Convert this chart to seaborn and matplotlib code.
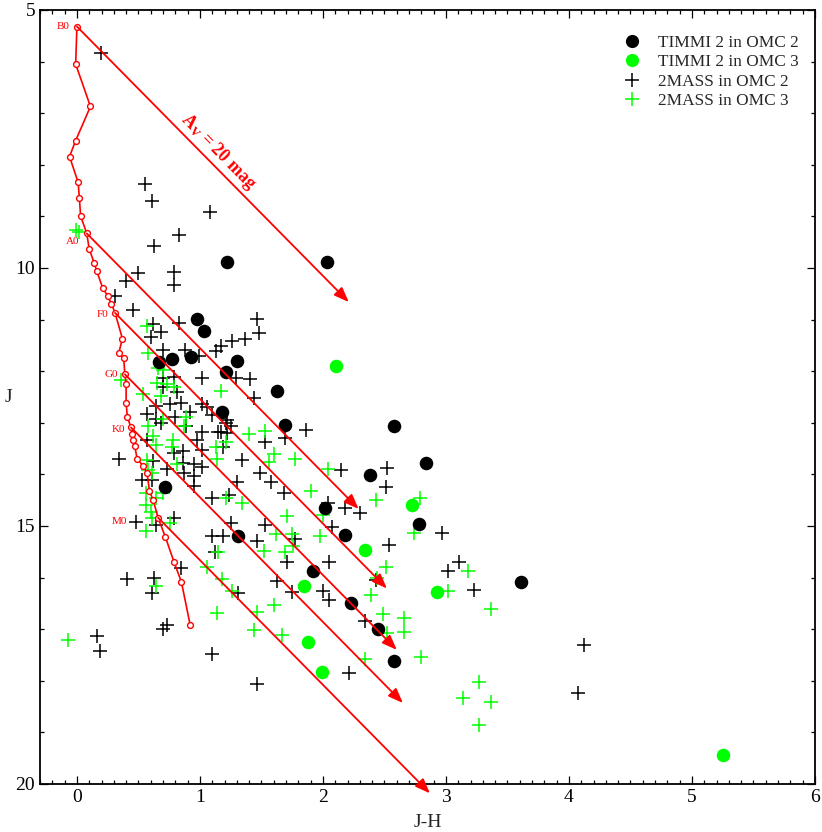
import numpy as np
import pandas as pd
import matplotlib
matplotlib.use('Agg')
import matplotlib.pyplot as plt
import seaborn as sns
from matplotlib.lines import Line2D
from matplotlib.ticker import MultipleLocator

# ---------------- data ----------------
# TIMMI 2 sources in OMC 2 (black dots)
timmi2_jh = [1.22, 2.03, 0.98, 1.03, 0.67, 0.77, 0.93, 1.30, 1.21, 1.63, 1.18, 1.69,
             2.58, 2.84, 2.38, 0.72, 2.02, 2.78, 1.31, 2.18, 1.92, 3.61, 2.23, 2.45, 2.58]
timmi2_j = [9.88, 9.89, 10.98, 11.22, 11.82, 11.77, 11.73, 11.81, 12.01, 12.38, 12.80, 13.04,
            13.07, 13.77, 14.01, 14.25, 14.66, 14.97, 15.19, 15.18, 15.88, 16.09, 16.49, 17.00, 17.62]

# TIMMI 2 sources in OMC 3 (green dots)
timmi3_jh = [2.11, 2.72, 2.34, 1.85, 2.93, 1.88, 1.99, 5.25]
timmi3_j = [11.89, 14.60, 15.46, 16.16, 16.28, 17.25, 17.82, 19.44]

# 2MASS sources in OMC 2 (black crosses)
mass2_jh = [0.195, 0.55, 0.61, 1.08, 0.83, 0.63, 0.50, 0.79,
            0.79, 0.40, 0.31, 0.455, 1.46, 1.48, 0.83, 0.62, 0.68, 0.60, 1.37, 1.26, 1.17, 1.13,
            0.70, 0.88, 0.99,
            0.70, 0.79, 1.02, 1.29, 1.41, 1.44, 0.70, 0.81, 0.76, 0.85, 1.02, 1.06, 1.10, 1.22,
            0.64, 0.57, 0.64, 0.80, 0.89, 0.92, 1.02, 1.17, 1.22, 1.25, 0.98, 0.57, 0.86, 0.79,
            1.02, 1.53, 1.69, 1.86, 1.34, 0.34, 0.62, 0.73, 0.86, 0.95, 1.02, 0.87, 0.95, 0.53,
            0.61, 0.95, 1.30, 1.49, 1.58, 1.68, 1.10, 1.24, 1.53, 1.25, 0.48, 0.64, 0.79, 1.10,
            1.19, 1.21, 1.15, 1.19, 0.68,
            1.46, 1.77, 1.12, 1.71, 2.05, 0.85, 0.41, 0.63, 0.61, 1.63, 1.31, 1.75, 2.00, 2.05,
            0.70, 0.73, 0.16, 0.19, 1.10, 1.46,
            2.07, 2.97, 2.54, 3.11, 3.02, 3.23, 2.43, 2.34, 2.21, 4.07, 4.12,
            2.15, 2.52, 2.51, 2.04, 2.18, 2.30]
mass2_j = [5.84, 8.38, 8.71, 8.91, 9.37, 9.57, 10.09, 10.07,
           10.32, 10.25, 10.54, 10.81, 10.98, 11.25, 11.07, 11.09, 11.24, 11.33, 11.38, 11.41, 11.52, 11.61,
           11.58, 11.59, 11.70,
           12.14, 12.11, 12.13, 12.14, 12.15, 12.51, 12.31, 12.40, 12.64, 12.61, 12.64, 12.69, 12.84, 12.95,
           12.68, 12.83, 12.93, 12.88, 13.06, 12.79, 13.18, 13.17, 13.20, 13.07, 13.33, 13.33, 13.54, 13.59,
           13.53, 13.37, 13.30, 13.13, 13.72, 13.70, 13.74, 13.90, 13.77, 13.79, 13.86, 13.98, 14.03, 14.11,
           14.11, 14.22, 14.14, 13.98, 14.14, 14.37, 14.45, 14.40, 14.98, 14.95, 14.92, 14.98, 14.85, 15.19,
           15.19, 13.00, 13.18, 13.46, 13.01,
           15.30, 15.25, 15.50, 15.69, 15.69, 15.82, 16.03, 16.01, 16.30, 16.07, 16.30, 16.27, 16.26, 16.43,
           17.00, 16.92, 17.14, 17.42, 17.49, 18.06,
           15.01, 15.13, 15.37, 15.69, 15.87, 16.24, 16.05, 16.85, 17.85, 18.24, 17.31,
           13.91, 13.88, 14.24, 14.55, 14.66, 14.75]

# 2MASS sources in OMC 3 (green crosses)
mass3_jh = [-0.005, 0.02,
            0.57, 0.58, 0.66, 0.70, 0.65, 0.73, 0.79, 0.68, 0.54, 1.17, 0.36,
            0.89, 0.70, 0.58, 0.87, 0.62, 0.64, 0.78, 0.77, 1.40, 1.53, 1.21, 1.13, 1.60, 1.56, 1.77,
            1.14, 0.81, 0.57, 0.58, 0.61, 1.90, 1.21, 1.34, 0.56, 0.56, 0.64, 0.70, 0.60, 0.61, 1.71,
            0.76, 0.56, 1.62, 1.75, 1.98, 2.04, 2.00, 2.43, 2.79, 2.74,
            1.15, 1.06, 1.18, 1.26, 0.64, 1.14, 1.46, 1.60, 1.44, 1.67, 1.52, 1.69, 1.76,
            2.51, 2.44, 3.18, 3.02, 2.39, 3.37, 2.49, 2.66, 2.52, 2.66, 2.34, 2.80, 3.27, 3.14, 3.37,
            3.27, -0.07]
mass3_j = [9.26, 9.30,
           11.13, 11.64, 11.94, 11.98, 12.23, 12.25, 12.30, 12.48, 12.45, 12.38, 12.17,
           12.88, 12.93, 13.06, 13.06, 13.26, 13.43, 13.33, 13.46, 13.22, 13.15, 13.37, 13.46, 13.61, 13.75, 13.71,
           13.71, 13.80, 13.72, 13.91, 13.98, 14.32, 14.46, 14.56, 14.37, 14.59, 14.46, 14.37, 14.72, 14.85, 14.81,
           14.95, 15.09, 15.16, 15.16, 15.20, 13.90, 14.79, 14.50, 14.46, 15.13,
           15.50, 15.79, 16.03, 16.25, 16.17, 16.68, 16.66, 16.53, 17.02, 17.11, 15.48, 15.51, 15.39,
           15.80, 16.01, 15.87, 16.25, 16.34, 16.60, 16.71, 16.78, 17.08, 17.06, 17.58, 17.54, 18.03, 18.34, 18.42,
           18.86, 17.21]

# Main sequence (J-H, J)
seq_jh = [0.00, -0.01, 0.11, -0.01, -0.06, 0.01, 0.02, 0.03, 0.08, 0.10, 0.14, 0.16, 0.21,
          0.25, 0.28, 0.31, 0.37, 0.34, 0.38, 0.39, 0.40, 0.40, 0.41, 0.44, 0.45, 0.455,
          0.47, 0.49, 0.54, 0.57, 0.59, 0.62, 0.66, 0.72, 0.79, 0.85, 0.92]
seq_j = [5.32, 6.05, 6.87, 7.53, 7.84, 8.34, 8.64, 8.99, 9.33, 9.63, 9.90, 10.05, 10.39,
         10.54, 10.69, 10.87, 11.37, 11.65, 11.75, 12.06, 12.25, 12.61, 12.89, 13.09, 13.22, 13.33,
         13.45, 13.70, 13.84, 13.98, 14.32, 14.50, 14.84, 15.22, 15.70, 16.09, 16.91]
spec_types = ['B0', 'A0', 'F0', 'G0', 'K0', 'M0']
spec_index = [0, 8, 15, 19, 23, 32]

# Reddening vector for A_V = 20 mag
av_djh = 2.21
av_dj = 5.34

legend_labels = ['TIMMI 2 in OMC 2', 'TIMMI 2 in OMC 3', '2MASS in OMC 2', '2MASS in OMC 3']

# ---------------- style ----------------
GREEN = '#00ff00'
sns.set_style('ticks')
plt.rcParams['font.family'] = ['Liberation Serif', 'DejaVu Serif']
plt.rcParams['mathtext.fontset'] = 'custom'
plt.rcParams['mathtext.rm'] = 'Liberation Serif'
plt.rcParams['mathtext.it'] = 'Liberation Serif:italic'
plt.rcParams['mathtext.bf'] = 'Liberation Serif:bold'

fig = plt.figure(figsize=(8.22, 8.32), dpi=100)
ax = fig.add_axes([40 / 822, 1 - 784 / 832, 775 / 822, 774 / 832])

df2m = pd.DataFrame({'jh': mass2_jh, 'j': mass2_j})
df3m = pd.DataFrame({'jh': mass3_jh, 'j': mass3_j})
df2t = pd.DataFrame({'jh': timmi2_jh, 'j': timmi2_j})
df3t = pd.DataFrame({'jh': timmi3_jh, 'j': timmi3_j})

sns.scatterplot(data=df2m, x='jh', y='j', marker='+', s=110, linewidth=1.1,
                color='black', ax=ax, zorder=3)
sns.scatterplot(data=df3m, x='jh', y='j', marker='+', s=110, linewidth=1.1,
                color=GREEN, ax=ax, zorder=3)
sns.scatterplot(data=df2t, x='jh', y='j', marker='o', s=95, linewidth=0,
                color='black', ax=ax, zorder=4)
sns.scatterplot(data=df3t, x='jh', y='j', marker='o', s=95, linewidth=0,
                color=GREEN, ax=ax, zorder=4)

# main sequence
ax.plot(seq_jh, seq_j, color='red', lw=1.2, marker='o', ms=4.2, mfc='white',
        mec='red', mew=1.0, zorder=5)

ax.set_xlim(-0.3, 6.0)
ax.set_ylim(20, 5)

# reddening arrows
for idx in spec_index:
    x0, y0 = seq_jh[idx], seq_j[idx]
    ax.annotate('', xy=(x0 + av_djh, y0 + av_dj), xytext=(x0, y0),
                arrowprops=dict(arrowstyle='-|>,head_length=0.9,head_width=0.35',
                                color='red', lw=1.3, shrinkA=0, shrinkB=0),
                annotation_clip=False, zorder=6)

# spectral type labels
label_offsets = [(-5, 0), (-5, -6), (-5, -1), (-5, 0), (-4, -1.5), (-22, -3)]
for name, idx, off in zip(spec_types, spec_index, label_offsets):
    ax.annotate(name, xy=(seq_jh[idx], seq_j[idx]), xytext=off,
                textcoords='offset points', ha='right', va='center',
                color='red', fontsize=8)

# A_V label rotated along the first vector
p1 = ax.transData.transform((seq_jh[0], seq_j[0]))
p2 = ax.transData.transform((seq_jh[0] + av_djh, seq_j[0] + av_dj))
angle = np.degrees(np.arctan2(p2[1] - p1[1], p2[0] - p1[0]))
ax.text(1.15, 7.75, r'A$_\mathbf{V}$ = 20 mag', rotation=angle, rotation_mode='anchor',
        ha='center', va='center', color='red', fontweight='bold', fontsize=13)

# axes cosmetics
ax.xaxis.set_major_locator(MultipleLocator(1))
ax.xaxis.set_minor_locator(MultipleLocator(0.1))
ax.yaxis.set_major_locator(MultipleLocator(5))
ax.yaxis.set_minor_locator(MultipleLocator(1))
ax.tick_params(which='both', direction='in', top=True, right=True, width=0.9,
               labelsize=14, colors='black')
ax.tick_params(which='major', length=6)
ax.tick_params(which='minor', length=3)
for sp in ax.spines.values():
    sp.set_visible(True)
    sp.set_linewidth(1.3)
    sp.set_color('black')
ax.set_xlabel('J-H', fontsize=14, labelpad=6)
ax.set_ylabel('J', fontsize=14, rotation=0, ha='center', va='center')
ax.yaxis.set_label_coords(-0.041, 0.5)

handles = [
    Line2D([], [], ls='', marker='o', color='black', ms=9.5, mew=0),
    Line2D([], [], ls='', marker='o', color=GREEN, ms=9.5, mew=0),
    Line2D([], [], ls='', marker='+', color='black', ms=10, mew=1.1),
    Line2D([], [], ls='', marker='+', color=GREEN, ms=10, mew=1.1),
]
ax.legend(handles, legend_labels, loc='upper right', bbox_to_anchor=(0.988, 0.977),
          frameon=False, fontsize=12.4, labelspacing=0.2, handletextpad=0.75,
          handlelength=1.5, borderaxespad=0)

fig.savefig('out.png', dpi=100)
